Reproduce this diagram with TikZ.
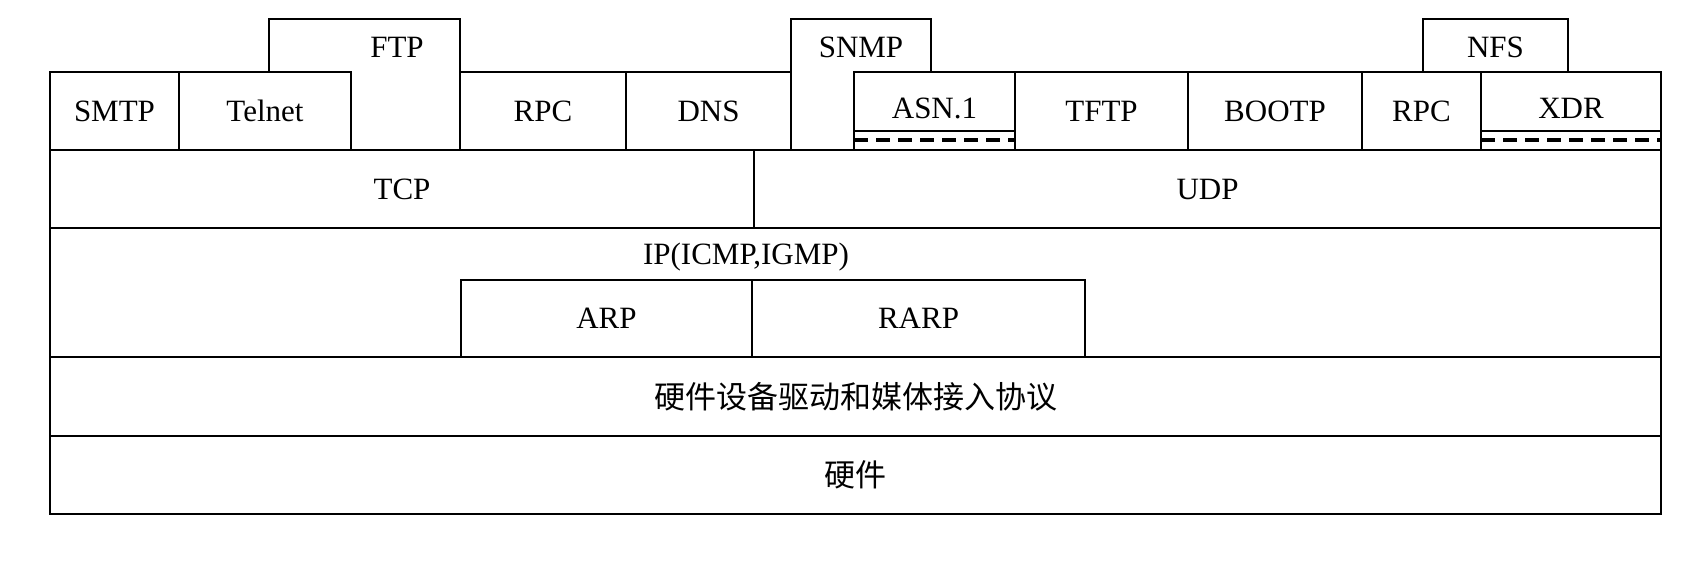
\documentclass[tikz,border=0pt]{standalone}
\usepackage{fontspec}
\setmainfont{Liberation Serif}
\newfontfamily\cjk{Noto Sans CJK SC}

\begin{document}
\begin{tikzpicture}[x=0.5pt, y=-0.5pt, line width=1.4pt,
    lbl/.style={font=\fontsize{15.5}{18}\selectfont, inner sep=0pt},
    seam/.style={line width=1.6pt, dash pattern=on 7pt off 4pt}]
    \useasboundingbox (0,0) rectangle (1706,570);

    % application layer, plain boxes
    \foreach \a/\b/\t [count=\i] in {50/179/SMTP, 179/351/Telnet, 460/626/RPC, 626/791/DNS,
                                     1015/1188/TFTP, 1188/1362/BOOTP, 1362/1481/RPC}{
        \draw (\a,72) rectangle (\b,150);
        \node[lbl] (app\i) at ({(\a+\b)/2},111) {\t};
    }
    % FTP and SNMP reach up
    \draw (269,72) -- (269,19) -- (460,19) -- (460,150) -- (351,150);
    \node[lbl] (ftp) at (397,47) {FTP};
    \draw (791,150) -- (791,19) -- (931,19) -- (931,72);
    \node[lbl] (snmp) at (861,47) {SNMP};
    \draw (1423,19) rectangle (1568,72);
    \node[lbl] (nfs) at (1495.5,47) {NFS};
    % ASN.1 and XDR with the double seam
    \foreach \a/\b/\t/\n in {854/1015/ASN.1/asn, 1481/1661/XDR/xdr}{
        \draw (\a,72) rectangle (\b,150);
        \draw (\a,131) -- (\b,131);
        \draw[seam] (\a,140) -- (\b,140);
        \node[lbl] (\n) at ({(\a+\b)/2},108) {\t};
    }

    % transport layer
    \draw (50,150) rectangle (754,228);
    \node[lbl] (tcp) at (402,189) {TCP};
    \draw (754,150) rectangle (1661,228);
    \node[lbl] (udp) at (1207.5,189) {UDP};

    % network layer
    \draw (50,228) rectangle (1661,357);
    \node[lbl] (ip) at (746,257) {IP(ICMP,IGMP)};
    \draw (461,280) rectangle (752,357);
    \node[lbl] (arp) at (606.5,318) {ARP};
    \draw (752,280) rectangle (1085,357);
    \node[lbl] (rarp) at (918.5,318) {RARP};

    % link layer and hardware
    \draw (50,357) rectangle (1661,436);
    \node[lbl, font=\cjk\fontsize{15.5}{18}\selectfont] (drv) at (855.5,396.5) {硬件设备驱动和媒体接入协议};
    \draw (50,436) rectangle (1661,514);
    \node[lbl, font=\cjk\fontsize{15.5}{18}\selectfont] (hw) at (855.5,475) {硬件};
\end{tikzpicture}
\end{document}
